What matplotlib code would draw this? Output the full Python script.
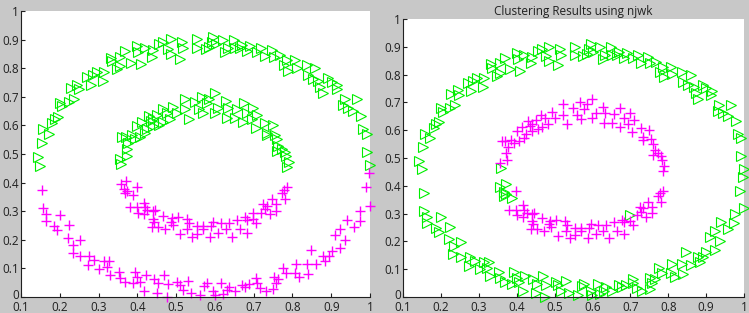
import numpy as np
import matplotlib
matplotlib.use('Agg')
from matplotlib import pyplot as plt
from matplotlib.transforms import ScaledTranslation

# outer ring, upper part (green in both panels)
outer_upper_x = [0.143, 0.149, 0.153, 0.158, 0.172, 0.181, 0.188, 0.196, 0.200, 0.206,
                 0.224, 0.237, 0.228, 0.245, 0.249, 0.271, 0.280, 0.285, 0.295, 0.311,
                 0.314, 0.331, 0.334, 0.347, 0.356, 0.356, 0.368, 0.383, 0.400, 0.403,
                 0.409, 0.420, 0.437, 0.440, 0.456, 0.467, 0.478, 0.486, 0.486, 0.510,
                 0.517, 0.515, 0.553, 0.555, 0.576, 0.585, 0.592, 0.596, 0.602, 0.620,
                 0.627, 0.633, 0.648, 0.652, 0.665, 0.671, 0.682, 0.691, 0.708, 0.719,
                 0.729, 0.747, 0.753, 0.768, 0.777, 0.786, 0.788, 0.807, 0.811, 0.837,
                 0.839, 0.853, 0.859, 0.867, 0.872, 0.879, 0.892, 0.901, 0.916, 0.914,
                 0.935, 0.931, 0.944, 0.957, 0.967, 0.978, 0.983, 0.991, 0.993, 1.000]
outer_upper_y = [0.488, 0.459, 0.539, 0.586, 0.571, 0.609, 0.623, 0.630, 0.679, 0.667,
                 0.681, 0.691, 0.732, 0.743, 0.728, 0.770, 0.740, 0.777, 0.786, 0.755,
                 0.786, 0.837, 0.825, 0.796, 0.807, 0.840, 0.860, 0.819, 0.877, 0.856,
                 0.813, 0.869, 0.840, 0.862, 0.886, 0.891, 0.868, 0.901, 0.848, 0.833,
                 0.872, 0.893, 0.869, 0.901, 0.866, 0.874, 0.891, 0.909, 0.883, 0.898,
                 0.856, 0.872, 0.898, 0.872, 0.869, 0.881, 0.860, 0.877, 0.858, 0.869,
                 0.842, 0.863, 0.840, 0.845, 0.810, 0.827, 0.790, 0.827, 0.802, 0.810,
                 0.775, 0.761, 0.799, 0.755, 0.735, 0.714, 0.764, 0.751, 0.740, 0.728,
                 0.691, 0.670, 0.662, 0.650, 0.691, 0.632, 0.588, 0.571, 0.506, 0.461]

# outer ring, lower part (magenta on the left, green for njwk)
outer_lower_x = [0.155, 0.156, 0.164, 0.164, 0.186, 0.194, 0.201, 0.224, 0.222, 0.235,
                 0.233, 0.252, 0.252, 0.274, 0.276, 0.289, 0.302, 0.314, 0.323, 0.327,
                 0.330, 0.353, 0.356, 0.368, 0.388, 0.394, 0.400, 0.407, 0.422, 0.417,
                 0.443, 0.450, 0.454, 0.469, 0.478, 0.476, 0.503, 0.510, 0.517, 0.530,
                 0.538, 0.562, 0.572, 0.579, 0.596, 0.600, 0.615, 0.620, 0.631, 0.637,
                 0.652, 0.671, 0.678, 0.689, 0.706, 0.708, 0.717, 0.731, 0.751, 0.753,
                 0.758, 0.764, 0.775, 0.784, 0.809, 0.807, 0.818, 0.839, 0.837, 0.848,
                 0.861, 0.878, 0.884, 0.893, 0.901, 0.910, 0.923, 0.923, 0.936, 0.940,
                 0.959, 0.973, 0.975, 0.989, 0.998, 0.999]
outer_lower_y = [0.375, 0.310, 0.289, 0.266, 0.249, 0.233, 0.287, 0.252, 0.208, 0.182,
                 0.155, 0.198, 0.144, 0.112, 0.144, 0.128, 0.099, 0.126, 0.106, 0.126,
                 0.076, 0.089, 0.068, 0.054, 0.048, 0.089, 0.070, 0.053, 0.076, 0.021,
                 0.064, 0.013, 0.048, 0.076, 0.044, 0.000, 0.054, 0.042, 0.023, 0.056,
                 0.015, 0.007, 0.039, 0.048, 0.021, 0.007, 0.048, 0.009, 0.023, 0.036,
                 0.021, 0.042, 0.036, 0.044, 0.065, 0.050, 0.033, 0.021, 0.027, 0.070,
                 0.050, 0.064, 0.103, 0.085, 0.117, 0.085, 0.071, 0.082, 0.117, 0.163,
                 0.114, 0.144, 0.126, 0.144, 0.161, 0.216, 0.237, 0.170, 0.200, 0.268,
                 0.245, 0.266, 0.299, 0.383, 0.432, 0.319]

# inner ring, upper part (green on the left, magenta for njwk)
inner_upper_x = [0.355, 0.358, 0.374, 0.373, 0.360, 0.370, 0.377, 0.386, 0.394, 0.400,
                 0.407, 0.413, 0.420, 0.424, 0.431, 0.435, 0.440, 0.441, 0.450, 0.457,
                 0.465, 0.467, 0.476, 0.484, 0.493, 0.502, 0.523, 0.523, 0.532, 0.549,
                 0.560, 0.566, 0.570, 0.579, 0.586, 0.600, 0.600, 0.609, 0.628, 0.633,
                 0.631, 0.652, 0.658, 0.674, 0.672, 0.684, 0.695, 0.699, 0.709, 0.705,
                 0.728, 0.734, 0.734, 0.749, 0.755, 0.760, 0.764, 0.773, 0.760, 0.781,
                 0.784, 0.790, 0.785]
inner_upper_y = [0.482, 0.464, 0.494, 0.518, 0.560, 0.560, 0.539, 0.565, 0.553, 0.597,
                 0.560, 0.611, 0.572, 0.588, 0.632, 0.615, 0.597, 0.624, 0.638, 0.603,
                 0.656, 0.611, 0.644, 0.623, 0.665, 0.644, 0.694, 0.656, 0.624, 0.681,
                 0.656, 0.700, 0.642, 0.677, 0.693, 0.712, 0.644, 0.662, 0.685, 0.662,
                 0.627, 0.627, 0.658, 0.679, 0.611, 0.644, 0.623, 0.662, 0.635, 0.592,
                 0.609, 0.574, 0.565, 0.600, 0.568, 0.551, 0.527, 0.518, 0.511, 0.508,
                 0.492, 0.473, 0.453]

# inner ring, lower part (magenta in both panels, a few go green for njwk)
inner_lower_x = [0.357, 0.371, 0.366, 0.367, 0.373, 0.388, 0.398, 0.381, 0.398, 0.401,
                 0.416, 0.420, 0.426, 0.416, 0.440, 0.441, 0.445, 0.437, 0.443, 0.454,
                 0.467, 0.471, 0.486, 0.489, 0.491, 0.504, 0.510, 0.527, 0.529, 0.532,
                 0.540, 0.553, 0.553, 0.569, 0.570, 0.588, 0.590, 0.596, 0.609, 0.615,
                 0.629, 0.637, 0.643, 0.656, 0.665, 0.678, 0.684, 0.684, 0.699, 0.699,
                 0.706, 0.718, 0.725, 0.728, 0.734, 0.741, 0.747, 0.757, 0.758, 0.772,
                 0.778, 0.781, 0.787]
inner_lower_y = [0.394, 0.406, 0.377, 0.362, 0.371, 0.357, 0.383, 0.313, 0.313, 0.295,
                 0.330, 0.313, 0.303, 0.289, 0.299, 0.274, 0.303, 0.245, 0.263, 0.245,
                 0.284, 0.237, 0.263, 0.275, 0.251, 0.278, 0.219, 0.274, 0.239, 0.260,
                 0.211, 0.222, 0.249, 0.237, 0.249, 0.211, 0.249, 0.263, 0.225, 0.258,
                 0.237, 0.258, 0.211, 0.268, 0.239, 0.278, 0.268, 0.225, 0.295, 0.272,
                 0.260, 0.295, 0.324, 0.307, 0.319, 0.289, 0.342, 0.324, 0.301, 0.362,
                 0.373, 0.342, 0.383]

# inner points that njwk puts with the outer ring
njwk_upper_green = [1]
njwk_lower_green = [0, 1, 2, 3, 4, 5, 48]

green = '#00ee00'
magenta = '#ff00ff'
bg = '#c8c8c8'
ink = '#202020'

plt.rcParams['font.family'] = ['Open Sans', 'DejaVu Sans']
plt.rcParams['font.size'] = 8.5

fig = plt.figure(figsize=(7.49, 3.13), dpi=100)
fig.patch.set_facecolor(bg)

ax1 = fig.add_axes([21 / 749, 1 - 297 / 313, 349 / 749, 286 / 313])
ax2 = fig.add_axes([403 / 749, 1 - 297 / 313, 341 / 749, 278 / 313])

tri = dict(marker='>', linestyle='none', markersize=6.5, markerfacecolor='none',
           markeredgewidth=0.8, clip_on=False)
plus = dict(marker='+', linestyle='none', markersize=7.5, markeredgewidth=1.0, clip_on=False)

# left panel
ax1.plot(outer_upper_x, outer_upper_y, color=green, **tri)
ax1.plot(inner_upper_x, inner_upper_y, color=green, **tri)
ax1.plot(outer_lower_x, outer_lower_y, color=magenta, **plus)
ax1.plot(inner_lower_x, inner_lower_y, color=magenta, **plus)

# right panel (njwk result)
iu_x = np.array(inner_upper_x)
iu_y = np.array(inner_upper_y)
il_x = np.array(inner_lower_x)
il_y = np.array(inner_lower_y)
up_mask = np.zeros(len(iu_x), bool)
up_mask[njwk_upper_green] = True
lo_mask = np.zeros(len(il_x), bool)
lo_mask[njwk_lower_green] = True

gx = np.concatenate([outer_upper_x, outer_lower_x, iu_x[up_mask], il_x[lo_mask]])
gy = np.concatenate([outer_upper_y, outer_lower_y, iu_y[up_mask], il_y[lo_mask]])
mx = np.concatenate([iu_x[~up_mask], il_x[~lo_mask]])
my = np.concatenate([iu_y[~up_mask], il_y[~lo_mask]])
ax2.plot(gx, gy, color=green, **tri)
ax2.plot(mx, my, color=magenta, **plus)
ax2.set_title('Clustering Results using njwk', fontsize=8.5, color=ink, pad=3)

xt = np.arange(1, 11) / 10
yt = np.arange(0, 11) / 10
for ax in (ax1, ax2):
    ax.set_xlim(0.1, 1)
    ax.set_ylim(0, 1)
    ax.set_xticks(xt)
    ax.set_xticklabels(['%g' % v for v in xt])
    ax.set_yticks(yt)
    ax.set_yticklabels(['%g' % v for v in yt])
    ax.spines['top'].set_visible(False)
    ax.spines['right'].set_visible(False)
    for s in ('left', 'bottom'):
        ax.spines[s].set_color(ink)
        ax.spines[s].set_linewidth(0.8)
    ax.tick_params(direction='in', length=3, width=0.8, colors=ink, labelsize=8.5)
    ax.tick_params(axis='y', pad=1.5)
    ax.tick_params(axis='x', pad=3)
    ax.set_facecolor('white')
    # lift the "0" label a touch so it sits clear of "0.1"
    lab = ax.get_yticklabels()[0]
    lab.set_transform(lab.get_transform() + ScaledTranslation(0, 2.5 / 72, fig.dpi_scale_trans))

fig.savefig('out.png', dpi=100, facecolor=bg)
